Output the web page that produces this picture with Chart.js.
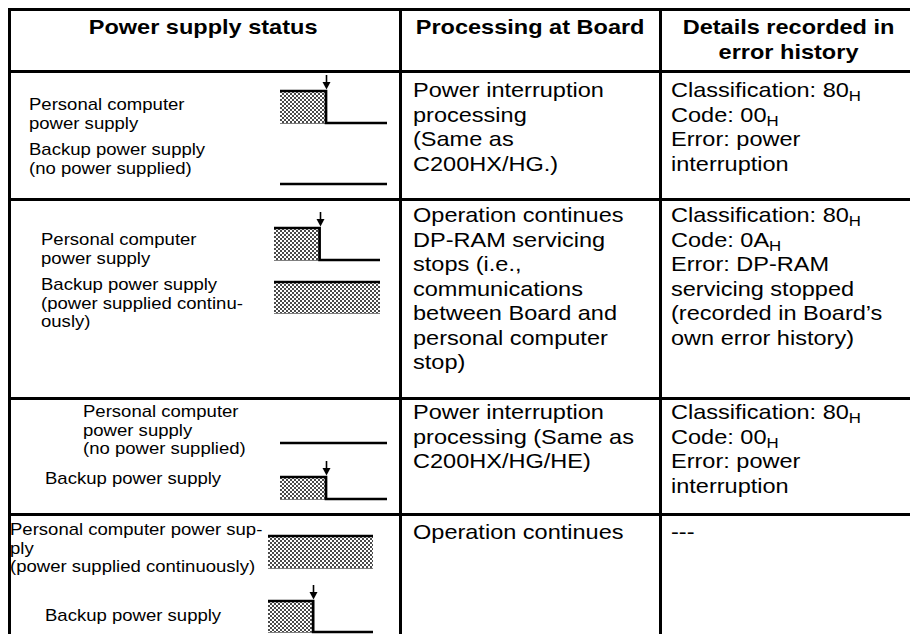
<!DOCTYPE html>
<html>
<head>
<meta charset="utf-8">
<script src="https://cdn.jsdelivr.net/npm/chart.js@4"></script>
<style>
  html, body { margin:0; padding:0; background:#fff; }
  body { width:910px; height:634px; overflow:hidden; position:relative;
         font-family:'Liberation Sans', Arial, Helvetica, sans-serif; color:#000; }
  .ln { position:absolute; background:#000; }
  .tx { position:absolute; white-space:pre; transform-origin:left top; }
  .hd { position:absolute; white-space:pre; font-weight:bold; font-size:21px; line-height:25px; text-align:center; }
  .body { font-size:21px; line-height:24.5px; }
  .lab { font-size:17px; line-height:18.5px; }
  sub { font-size:15px; vertical-align:-4px; line-height:0; }
  canvas.sig { position:absolute; }
</style>
</head>
<body>
<script>
// ---------- data ----------
const columnHeaders = ["Power supply status", "Processing at Board", "Details recorded in\nerror history"];
const signalTimes = [0, 4.3, 4.3, 10];          // time axis of each waveform (interruption at 4.3)
const levelDrop = [1, 1, 0, 0];                  // supply interrupted
const levelOn   = [1, 1, 1, 1];                  // supplied continuously
const levelOff  = [0, 0, 0, 0];                  // no power supplied
const rowSignals = [["drop", "off"], ["drop", "on"], ["off", "drop"], ["on", "drop"]]; // [PC, Backup]
const processingText = [
  ["Power interruption", "processing", "(Same as", "C200HX/HG.)"],
  ["Operation continues", "DP-RAM servicing", "stops (i.e.,", "communications", "between Board and", "personal computer", "stop)"],
  ["Power interruption", "processing (Same as", "C200HX/HG/HE)"],
  ["Operation continues"]
];
const historyText = [
  ["Classification: 80<sub>H</sub>", "Code: 00<sub>H</sub>", "Error: power", "interruption"],
  ["Classification: 80<sub>H</sub>", "Code: 0A<sub>H</sub>", "Error: DP-RAM", "servicing stopped", "(recorded in Board\u2019s", "own error history)"],
  ["Classification: 80<sub>H</sub>", "Code: 00<sub>H</sub>", "Error: power", "interruption"],
  ["---"]
];
const pcLabels = [
  ["Personal computer", "power supply"],
  ["Personal computer", "power supply"],
  ["Personal computer", "power supply", "(no power supplied)"],
  ["Personal computer power sup-", "ply", "(power supplied continuously)"]
];
const backupLabels = [
  ["Backup power supply", "(no power supplied)"],
  ["Backup power supply", "(power supplied continu-", "ously)"],
  ["Backup power supply"],
  ["Backup power supply"]
];

// ---------- layout ----------
const SX = 1.12;
const SXL = 1.09;
const hLines = [9.5, 71.5, 199.5, 398.5, 514.5];
const vLines = [9.5, 400.5, 660.5];
const headerCenters = [203, 530, 788];
const processingPos = [[413, 78], [413, 203], [413, 400], [413, 520]];
const historyPos = [[671, 78], [671, 203], [671, 400], [671, 520]];
const pcLabelPos = [[29, 96], [41, 231], [83, 403], [10, 521]];
const backupLabelPos = [[29, 141], [41, 276], [45, 470], [45, 607]];
// waveform boxes [x0, x1, yTop(level 1), yBottom(level 0)]
const pcBoxes = [[280, 387, 91, 123], [274, 380, 228, 260], [280, 387, 411, 443], [268, 373, 536, 568]];
const backupBoxes = [[280, 387, 152, 184], [274, 380, 282, 313], [280, 387, 477, 499], [268, 373, 601, 632]];

function addLine(x, y, w, h) {
  const d = document.createElement('div');
  d.className = 'ln';
  Object.assign(d.style, {left: x + 'px', top: y + 'px', width: w + 'px', height: h + 'px'});
  document.body.appendChild(d);
}
const LW = 2.7;
hLines.forEach(y => addLine(8, y - LW / 2, 910, LW));
vLines.forEach(x => addLine(x - LW / 2, 8, LW, 640));

function addText(lines, x, top, cls, sx) {
  const d = document.createElement('div');
  d.className = 'tx ' + cls;
  d.innerHTML = lines.join('\n');
  d.style.left = x + 'px';
  d.style.top = top + 'px';
  d.style.transform = 'scaleX(' + sx + ')';
  document.body.appendChild(d);
}
columnHeaders.forEach((h, i) => {
  const d = document.createElement('div');
  d.className = 'hd';
  d.textContent = h;
  d.style.left = '0px';
  d.style.top = '14px';
  document.body.appendChild(d);
  const w = d.offsetWidth;
  d.style.left = (headerCenters[i] - w / 2) + 'px';
  d.style.transformOrigin = 'center top';
  d.style.transform = 'scaleX(' + SX + ')';
});
processingText.forEach((l, i) => addText(l, processingPos[i][0], processingPos[i][1], 'body', SX));
historyText.forEach((l, i) => addText(l, historyPos[i][0], historyPos[i][1], 'body', SX));
pcLabels.forEach((l, i) => addText(l, pcLabelPos[i][0], pcLabelPos[i][1], 'lab', SXL));
backupLabels.forEach((l, i) => addText(l, backupLabelPos[i][0], backupLabelPos[i][1], 'lab', SXL));

// ---------- dotted pattern ----------
function makePattern() {
  const c = document.createElement('canvas');
  c.width = 4; c.height = 4;
  const g = c.getContext('2d');
  g.fillStyle = '#fff'; g.fillRect(0, 0, 4, 4);
  g.fillStyle = '#4a4a4a';
  g.fillRect(0, 0, 2, 2); g.fillRect(2, 2, 2, 2);
  return g.createPattern(c, 'repeat');
}
const dotPattern = makePattern();

const levelsOf = {drop: levelDrop, on: levelOn, off: levelOff};

const arrowPlugin = {
  id: 'dropArrow',
  afterDatasetsDraw(chart, args, opts) {
    const lv = opts.levels;
    if (!lv) return;
    let tDrop = null;
    for (let i = 1; i < lv.length; i++) if (lv[i - 1] > lv[i]) { tDrop = signalTimes[i]; break; }
    if (tDrop === null) return;
    const ctx = chart.ctx;
    const x = Math.round(chart.scales.x.getPixelForValue(tDrop)) + 0.5;
    const yTop = chart.scales.y.getPixelForValue(1);
    ctx.save();
    ctx.strokeStyle = '#000'; ctx.fillStyle = '#000'; ctx.lineWidth = 1.6;
    ctx.beginPath(); ctx.moveTo(x, yTop - 16); ctx.lineTo(x, yTop - 7); ctx.stroke();
    ctx.beginPath(); ctx.moveTo(x - 4, yTop - 9); ctx.lineTo(x + 4, yTop - 9); ctx.lineTo(x, yTop - 1.5); ctx.closePath(); ctx.fill();
    ctx.restore();
  }
};

function makeSignal(kind, box) {
  const [x0, x1, yT, yB] = box;
  const pad = {left: 2, right: 2, top: 18, bottom: 2};
  const cv = document.createElement('canvas');
  cv.className = 'sig';
  const w = x1 - x0 + pad.left + pad.right, h = yB - yT + pad.top + pad.bottom;
  cv.width = w; cv.height = h;
  cv.style.left = (x0 - pad.left) + 'px';
  cv.style.top = (yT - pad.top) + 'px';
  cv.style.width = w + 'px'; cv.style.height = h + 'px';
  document.body.appendChild(cv);
  const lv = levelsOf[kind];
  const main = signalTimes.map((t, i) => ({x: t, y: lv[i]}));
  const base = signalTimes.map((t, i) => lv[i] === 1 ? {x: t, y: 0} : null).filter(p => p);
  new Chart(cv, {
    type: 'line',
    data: {
      datasets: [
        {data: main, borderColor: '#000', borderWidth: 2.7, backgroundColor: dotPattern,
         fill: 'origin', pointRadius: 0, tension: 0, clip: false, borderCapStyle: 'butt', borderJoinStyle: 'miter'},
        {data: base, borderColor: '#000', borderWidth: 1, pointRadius: 0, fill: false, clip: false}
      ]
    },
    options: {
      responsive: false, animation: false, events: [],
      devicePixelRatio: 1,
      layout: {padding: pad},
      scales: {
        x: {type: 'linear', min: 0, max: 10, display: false},
        y: {type: 'linear', min: 0, max: 1, display: false}
      },
      plugins: {legend: {display: false}, tooltip: {enabled: false},
                dropArrow: {levels: kind === 'drop' ? lv : null}}
    },
    plugins: [arrowPlugin]
  });
}
rowSignals.forEach((r, i) => {
  makeSignal(r[0], pcBoxes[i]);
  makeSignal(r[1], backupBoxes[i]);
});
</script>
</body>
</html>
